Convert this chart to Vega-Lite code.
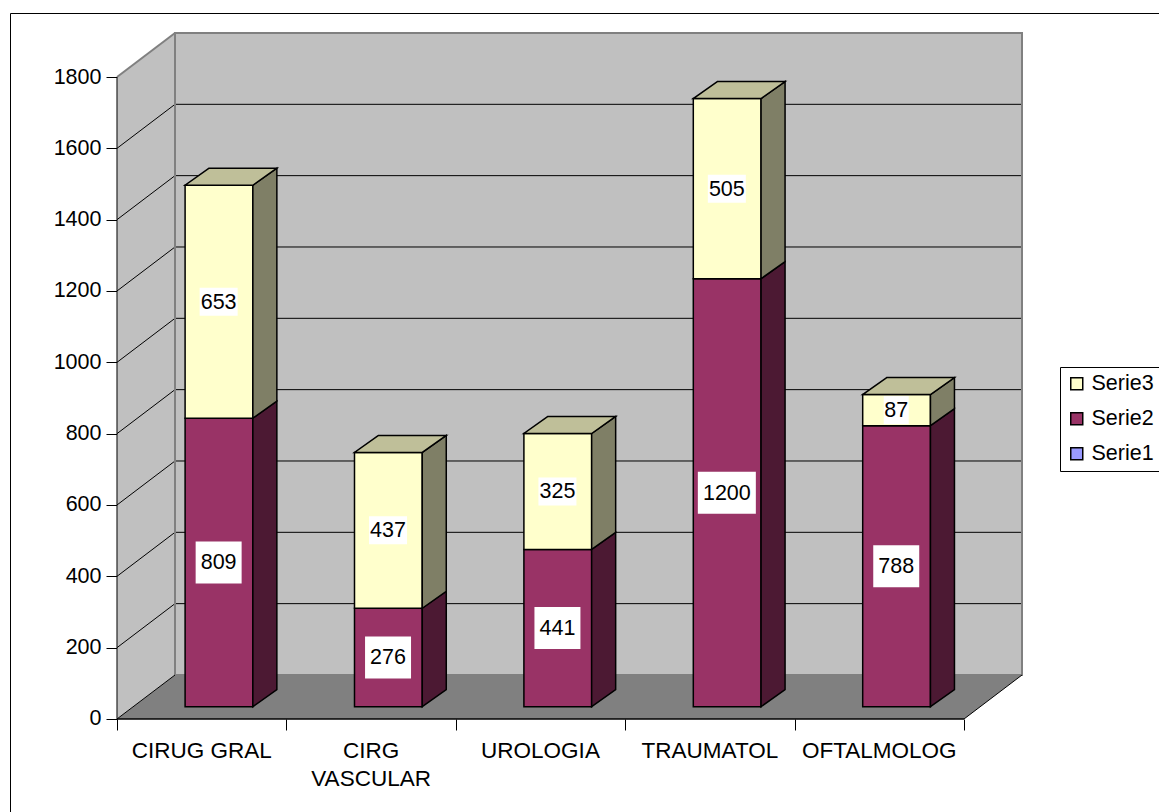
{
  "$schema": "https://vega.github.io/schema/vega-lite/v6.json",
  "usermeta": {"embedOptions": {"actions": false}},
  "width": 1149,
  "height": 799,
  "autosize": {"type": "none"},
  "padding": {"left": 10, "top": 13, "right": 0, "bottom": 0},
  "background": "white",
  "config": {
    "view": {"stroke": "black", "strokeWidth": 1},
    "font": "Liberation Sans",
    "text": {"font": "Liberation Sans"}
  },
  "datasets": {
    "counts": [
      {"cat": "CIRUG GRAL", "series": "Serie2", "value": 809},
      {"cat": "CIRUG GRAL", "series": "Serie3", "value": 653},
      {"cat": "CIRG VASCULAR", "series": "Serie2", "value": 276},
      {"cat": "CIRG VASCULAR", "series": "Serie3", "value": 437},
      {"cat": "UROLOGIA", "series": "Serie2", "value": 441},
      {"cat": "UROLOGIA", "series": "Serie3", "value": 325},
      {"cat": "TRAUMATOL", "series": "Serie2", "value": 1200},
      {"cat": "TRAUMATOL", "series": "Serie3", "value": 505},
      {"cat": "OFTALMOLOG", "series": "Serie2", "value": 788},
      {"cat": "OFTALMOLOG", "series": "Serie3", "value": 87}
    ],
    "edges": [{"edge": "front"}, {"edge": "back"}],
    "levels": [
      {"level": 200}, {"level": 400}, {"level": 600}, {"level": 800},
      {"level": 1000}, {"level": 1200}, {"level": 1400}, {"level": 1600}
    ]
  },
  "layer": [
    {
      "data": {"values": [{}]},
      "mark": {"type": "rule", "stroke": "black", "strokeWidth": 1, "opacity": 0},
      "encoding": {
        "x": {
          "datum": 0,
          "type": "quantitative",
          "scale": {"domain": [-0.63164, 6.15112], "nice": false, "zero": false},
          "axis": {
            "orient": "bottom",
            "values": [0, 1, 2, 3, 4, 5],
            "labels": false,
            "domain": false,
            "grid": false,
            "ticks": true,
            "tickSize": 11,
            "tickColor": "black",
            "tickWidth": 1,
            "offset": -93,
            "title": null
          }
        },
        "y": {
          "datum": 0,
          "type": "quantitative",
          "scale": {"domain": [-260.75, 1979.44], "nice": false, "zero": false},
          "axis": {
            "orient": "left",
            "values": [0, 200, 400, 600, 800, 1000, 1200, 1400, 1600, 1800],
            "format": "d",
            "domain": false,
            "grid": false,
            "ticks": true,
            "tickSize": 11,
            "tickColor": "black",
            "tickWidth": 1,
            "labelPadding": 5,
            "labelFont": "Liberation Sans",
            "labelFontSize": 21.5,
            "labelColor": "black",
            "labelFlush": false,
            "labelOverlap": false,
            "labelBound": false,
            "offset": -107,
            "title": null
          }
        },
        "y2": {"datum": 1800}
      }
    },
    {
      "data": {"name": "edges"},
      "transform": [
        {"calculate": "datum.edge == 'back' ? 1 : 0", "as": "d"},
        {"calculate": "datum.d * 0.3424", "as": "wx"},
        {"calculate": "datum.d * 123.4", "as": "wy0"},
        {"calculate": "1800 + datum.d * 123.4", "as": "wy1"}
      ],
      "mark": {"type": "area", "orient": "vertical", "fill": "#C0C0C0"},
      "encoding": {
        "x": {"field": "wx", "type": "quantitative"},
        "y": {"field": "wy0", "type": "quantitative"},
        "y2": {"field": "wy1"}
      }
    },
    {
      "data": {"values": [{}]},
      "mark": {"type": "rect", "fill": "#C0C0C0"},
      "encoding": {
        "x": {"datum": 0.3424, "type": "quantitative"},
        "x2": {"datum": 5.3424},
        "y": {"datum": 123.4, "type": "quantitative"},
        "y2": {"datum": 1923.4}
      }
    },
    {
      "data": {"name": "edges"},
      "transform": [
        {"calculate": "datum.edge == 'back' ? 1 : 0", "as": "d"},
        {"calculate": "datum.d * 123.4", "as": "fy"},
        {"calculate": "datum.d * 0.3424", "as": "fx0"},
        {"calculate": "5 + datum.d * 0.3424", "as": "fx1"}
      ],
      "mark": {"type": "area", "orient": "horizontal", "fill": "#808080"},
      "encoding": {
        "y": {"field": "fy", "type": "quantitative"},
        "x": {"field": "fx0", "type": "quantitative"},
        "x2": {"field": "fx1"}
      }
    },
    {
      "data": {"name": "levels"},
      "transform": [{"calculate": "datum.level + 123.4", "as": "gy"}],
      "mark": {"type": "rule", "stroke": "black", "strokeWidth": 1},
      "encoding": {
        "x": {"datum": 0.3424, "type": "quantitative"},
        "x2": {"datum": 5.3424},
        "y": {"field": "gy", "type": "quantitative"}
      }
    },
    {
      "data": {"name": "levels"},
      "transform": [{"calculate": "datum.level + 123.4", "as": "gy"}],
      "mark": {"type": "rule", "stroke": "black", "strokeWidth": 1},
      "encoding": {
        "x": {"datum": 0, "type": "quantitative"},
        "y": {"field": "level", "type": "quantitative"},
        "x2": {"datum": 0.3424},
        "y2": {"field": "gy"}
      }
    },
    {
      "data": {"values": [{}]},
      "mark": {"type": "rect", "filled": false, "stroke": "#808080", "strokeWidth": 2},
      "encoding": {
        "x": {"datum": 0.3424, "type": "quantitative"},
        "x2": {"datum": 5.3424},
        "y": {"datum": 123.4, "type": "quantitative"},
        "y2": {"datum": 1923.4}
      }
    },
    {
      "data": {"values": [{}]},
      "mark": {"type": "rule", "stroke": "#808080", "strokeWidth": 2},
      "encoding": {
        "x": {"datum": 0, "type": "quantitative"},
        "y": {"datum": 1800, "type": "quantitative"},
        "x2": {"datum": 0.3424},
        "y2": {"datum": 1923.4}
      }
    },
    {
      "data": {"values": [{}]},
      "mark": {"type": "rule", "stroke": "black", "strokeWidth": 1},
      "encoding": {
        "x": {"datum": 0, "type": "quantitative"},
        "y": {"datum": 0, "type": "quantitative"},
        "x2": {"datum": 0.3424},
        "y2": {"datum": 123.4}
      }
    },
    {
      "data": {"values": [{}]},
      "mark": {"type": "rule", "stroke": "black", "strokeWidth": 1},
      "encoding": {
        "x": {"datum": 5, "type": "quantitative"},
        "y": {"datum": 0, "type": "quantitative"},
        "x2": {"datum": 5.3424},
        "y2": {"datum": 123.4}
      }
    },
    {
      "data": {"values": [{}]},
      "mark": {"type": "rule", "stroke": "black", "strokeWidth": 1.5},
      "encoding": {
        "x": {"datum": 0, "type": "quantitative"},
        "x2": {"datum": 5},
        "y": {"datum": 0, "type": "quantitative"}
      }
    },
    {
      "data": {"values": [{}]},
      "mark": {"type": "rule", "stroke": "black", "strokeWidth": 1},
      "encoding": {
        "x": {"datum": 0, "type": "quantitative"},
        "y": {"datum": 0, "type": "quantitative"},
        "y2": {"datum": 1800}
      }
    },
    {
      "data": {"name": "counts"},
      "transform": [
        {"stack": "value", "groupby": ["cat"], "sort": [{"field": "series", "order": "ascending"}], "as": ["v0", "v1"]},
        {"calculate": "indexof(['CIRUG GRAL','CIRG VASCULAR','UROLOGIA','TRAUMATOL','OFTALMOLOG'], datum.cat)", "as": "i"},
        {"calculate": "datum.i + 0.402", "as": "bx0"},
        {"calculate": "datum.i + 0.802", "as": "bx1"},
        {"calculate": "datum.v0 + 34.5", "as": "by0"},
        {"calculate": "datum.v1 + 34.5", "as": "by1"}
      ],
      "mark": {"type": "rect", "stroke": "black", "strokeWidth": 1.5},
      "encoding": {
        "x": {"field": "bx0", "type": "quantitative"},
        "x2": {"field": "bx1"},
        "y": {"field": "by0", "type": "quantitative"},
        "y2": {"field": "by1"},
        "color": {
          "field": "series",
          "type": "nominal",
          "scale": {"domain": ["Serie3", "Serie2", "Serie1"], "range": ["#FFFFCC", "#993366", "#9999FF"]},
          "legend": {
            "orient": "none",
            "legendX": 1050,
            "legendY": 354,
            "title": null,
            "padding": 6,
            "strokeColor": "black",
            "fillColor": "white",
            "symbolType": "square",
            "symbolSize": 144,
            "symbolStrokeColor": "black",
            "symbolStrokeWidth": 1.5,
            "labelFont": "Liberation Sans",
            "labelFontSize": 21.5,
            "labelColor": "black",
            "labelOffset": 4,
            "rowPadding": 12
          }
        }
      }
    },
    {
      "data": {"name": "counts"},
      "transform": [
        {"stack": "value", "groupby": ["cat"], "sort": [{"field": "series", "order": "ascending"}], "as": ["v0", "v1"]},
        {"calculate": "indexof(['CIRUG GRAL','CIRG VASCULAR','UROLOGIA','TRAUMATOL','OFTALMOLOG'], datum.cat)", "as": "i"},
        {"calculate": "[0, 1]", "as": "edge"},
        {"flatten": ["edge"]},
        {"calculate": "datum.i + 0.802 + datum.edge * 0.1417", "as": "sx"},
        {"calculate": "datum.v0 + 34.5 + datum.edge * 47.7", "as": "sy0"},
        {"calculate": "datum.v1 + 34.5 + datum.edge * 47.7", "as": "sy1"}
      ],
      "mark": {"type": "area", "orient": "vertical", "stroke": "black", "strokeWidth": 1.5},
      "encoding": {
        "x": {"field": "sx", "type": "quantitative"},
        "y": {"field": "sy0", "type": "quantitative"},
        "y2": {"field": "sy1"},
        "detail": [{"field": "cat"}, {"field": "series"}],
        "fill": {
          "field": "series",
          "type": "nominal",
          "scale": {"domain": ["Serie3", "Serie2"], "range": ["#7F7F66", "#4C1933"]},
          "legend": null
        }
      }
    },
    {
      "data": {"name": "counts"},
      "transform": [
        {"stack": "value", "groupby": ["cat"], "sort": [{"field": "series", "order": "ascending"}], "as": ["v0", "v1"]},
        {"joinaggregate": [{"op": "max", "field": "v1", "as": "vtop"}], "groupby": ["cat"]},
        {"filter": "datum.v1 == datum.vtop"},
        {"calculate": "indexof(['CIRUG GRAL','CIRG VASCULAR','UROLOGIA','TRAUMATOL','OFTALMOLOG'], datum.cat)", "as": "i"},
        {"calculate": "[0, 1]", "as": "edge"},
        {"flatten": ["edge"]},
        {"calculate": "datum.v1 + 34.5 + datum.edge * 47.7", "as": "ty"},
        {"calculate": "datum.i + 0.402 + datum.edge * 0.1417", "as": "tx0"},
        {"calculate": "datum.i + 0.802 + datum.edge * 0.1417", "as": "tx1"}
      ],
      "mark": {"type": "area", "orient": "horizontal", "fill": "#BFBF99", "stroke": "black", "strokeWidth": 1.5},
      "encoding": {
        "y": {"field": "ty", "type": "quantitative"},
        "x": {"field": "tx0", "type": "quantitative"},
        "x2": {"field": "tx1"},
        "detail": {"field": "cat"}
      }
    },
    {
      "data": {"name": "counts"},
      "transform": [
        {"stack": "value", "groupby": ["cat"], "sort": [{"field": "series", "order": "ascending"}], "as": ["v0", "v1"]},
        {"calculate": "indexof(['CIRUG GRAL','CIRG VASCULAR','UROLOGIA','TRAUMATOL','OFTALMOLOG'], datum.cat)", "as": "i"},
        {"calculate": "datum.i + 0.6", "as": "mx"},
        {"calculate": "34.5 + (datum.v0 + datum.v1) / 2", "as": "my"},
        {"calculate": "datum.series + '_' + length(toString(datum.value))", "as": "box"}
      ],
      "mark": {"type": "point", "filled": true, "fill": "white", "strokeWidth": 0, "opacity": 1, "size": 1764},
      "encoding": {
        "x": {"field": "mx", "type": "quantitative"},
        "y": {"field": "my", "type": "quantitative"},
        "shape": {
          "field": "box",
          "type": "nominal",
          "scale": {
            "domain": ["Serie2_3", "Serie2_4", "Serie3_3", "Serie3_2"],
            "range": [
              "M-1.095,-1H1.095V1H-1.095Z",
              "M-1.381,-1H1.381V1H-1.381Z",
              "M-0.905,-0.667H0.905V0.667H-0.905Z",
              "M-0.595,-0.667H0.595V0.667H-0.595Z"
            ]
          },
          "legend": null
        }
      }
    },
    {
      "data": {"name": "counts"},
      "transform": [
        {"stack": "value", "groupby": ["cat"], "sort": [{"field": "series", "order": "ascending"}], "as": ["v0", "v1"]},
        {"calculate": "indexof(['CIRUG GRAL','CIRG VASCULAR','UROLOGIA','TRAUMATOL','OFTALMOLOG'], datum.cat)", "as": "i"},
        {"calculate": "datum.i + 0.6", "as": "mx"},
        {"calculate": "34.5 + (datum.v0 + datum.v1) / 2", "as": "my"}
      ],
      "mark": {"type": "text", "font": "Liberation Sans", "fontSize": 21.5, "color": "black", "align": "center", "baseline": "middle", "dy": 1},
      "encoding": {
        "x": {"field": "mx", "type": "quantitative"},
        "y": {"field": "my", "type": "quantitative"},
        "text": {"field": "value", "type": "quantitative", "format": "d"}
      }
    },
    {
      "data": {"name": "counts"},
      "transform": [
        {"aggregate": [{"op": "count", "as": "n"}], "groupby": ["cat"]},
        {"calculate": "indexof(['CIRUG GRAL','CIRG VASCULAR','UROLOGIA','TRAUMATOL','OFTALMOLOG'], datum.cat)", "as": "i"},
        {"calculate": "datum.i + 0.5", "as": "cx"},
        {"calculate": "length(datum.cat) > 11 ? split(datum.cat, ' ') : datum.cat", "as": "lbl"}
      ],
      "mark": {"type": "text", "font": "Liberation Sans", "fontSize": 22.5, "color": "black", "align": "center", "baseline": "alphabetic", "dy": 39, "lineHeight": 28.4},
      "encoding": {
        "x": {"field": "cx", "type": "quantitative"},
        "y": {"datum": 0, "type": "quantitative"},
        "text": {"field": "lbl", "type": "nominal"}
      }
    }
  ]
}
